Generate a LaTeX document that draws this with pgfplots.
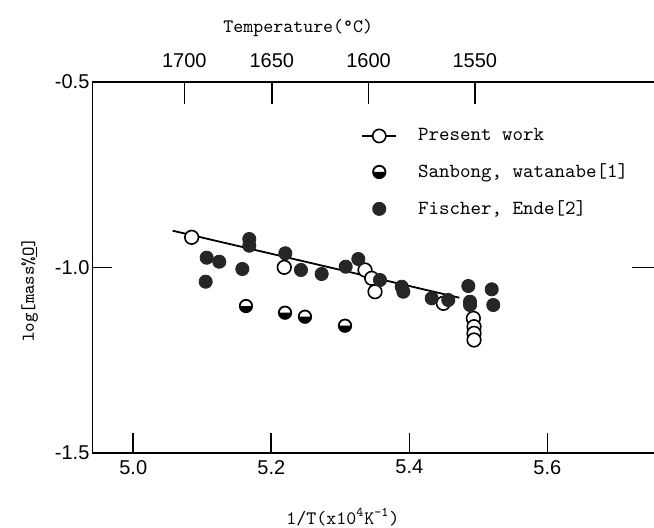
\documentclass[border=0pt]{standalone}
\usepackage{fontspec}
\usepackage{pgfplots}
\pgfplotsset{compat=1.18}
\newfontfamily\numfont{Liberation Sans}
\newcommand\lab{\ttfamily\fontsize{9.5}{11}\selectfont}

\pgfplotstableread{
x y
5.0846 -0.9186
5.2188 -0.9995
5.3358 -1.0067
5.3455 -1.0291
5.3503 -1.0652
5.4493 -1.0965
5.4928 -1.1370
5.4938 -1.1596
5.4938 -1.1774
5.4938 -1.1954
}\present

\pgfplotstableread{
x y
5.1633 -1.1038
5.2199 -1.1218
5.2488 -1.1326
5.3068 -1.1569
}\sanbong

\pgfplotstableread{
x y
5.1681 -0.9232
5.1681 -0.9412
5.1064 -0.9736
5.1246 -0.9844
5.1049 -1.0383
5.1580 -1.0040
5.2203 -0.9617
5.2430 -1.0067
5.2730 -1.0175
5.3078 -0.9978
5.3261 -0.9771
5.3575 -1.0337
5.3890 -1.0518
5.3913 -1.0652
5.4325 -1.0830
5.4565 -1.0876
5.4855 -1.0499
5.4880 -1.0922
5.4880 -1.1011
5.5194 -1.0588
5.5217 -1.1011
}\fischer

\begin{document}
\begin{tikzpicture}
\useasboundingbox (-46.25pt,-37pt) rectangle (280.75pt,226.5pt);
\begin{axis}[
  at={(0,0)}, anchor=south west,
  scale only axis, width=280.75pt, height=185.5pt,
  xmin=4.9409, xmax=5.7546, ymin=-1.5, ymax=-0.5,
  axis x line=bottom, axis y line=left,
  axis line style={-, line width=0.9pt},
  every outer x axis line/.append style={-},
  every outer y axis line/.append style={-},
  tick align=inside, major tick length=10pt,
  every tick/.style={black, line width=0.8pt},
  xtick={5.0,5.2,5.4,5.6}, ytick={-1.5,-1.0,-0.5},
  tick label style={font=\numfont\fontsize{10}{12}\selectfont},
  x tick label style={/pgf/number format/.cd, fixed, fixed zerofill, precision=1, assume math mode=true},
  y tick label style={xshift=2pt, /pgf/number format/.cd, fixed, fixed zerofill, precision=1, assume math mode=true},
  xlabel={1/T(x10\textsuperscript{4}K\textsuperscript{-1})},
  xlabel style={font=\lab, at={(axis description cs:0.446,0)}, anchor=center, yshift=-32pt},
  ylabel={log[mass\%\underline{O}]},
  ylabel style={font=\ttfamily\fontsize{9}{11}\selectfont, at={(axis description cs:-0.112,0.44)}, anchor=center},
  legend style={at={(axis description cs:0.478,0.887)}, anchor=north west, draw=none, fill=none,
    font=\ttfamily\fontsize{10}{12}\selectfont, row sep=6pt, inner sep=0pt,
    /tikz/every odd column/.append style={column sep=8.5pt}},
  legend cell align=left,
  clip=false,
]
\addlegendimage{black, line width=0.9pt, mark=*, mark options={fill=white, draw=black, line width=0.8pt}, mark size=3.3pt}
\addlegendentry{Present work}
\addplot[black, line width=0.9pt, forget plot] coordinates {(5.0571,-0.9008) (5.4725,-1.0814)};
\addplot[only marks, mark=*, mark size=3.4pt, mark options={fill=white, draw=black, line width=0.8pt}, forget plot] table {\present};
\addplot[only marks, mark=halfcircle*, mark size=3.1pt, mark options={fill=white, draw=black, mark color=black, line width=0.9pt}] table {\sanbong};
\addlegendentry{Sanbong, watanabe[1]}
\addplot[only marks, mark=*, mark size=3.3pt, mark options={fill=black!85, draw=black!85}] table {\fischer};
\addlegendentry{Fischer, Ende[2]}
\end{axis}
\begin{axis}[
  at={(0,0)}, anchor=south west,
  scale only axis, width=280.75pt, height=185.5pt,
  xmin=4.9409, xmax=5.7546, ymin=-1.5, ymax=-0.5,
  axis x line=top, axis y line=right,
  axis line style={-, line width=0.9pt},
  every outer x axis line/.append style={-},
  every outer y axis line/.append style={draw=none},
  tick align=inside, major tick length=11pt,
  every tick/.style={black, line width=0.8pt},
  xtick={5.074,5.2007,5.341,5.495},
  xticklabels={1700,1650,1600,1550},
  ytick={-1.0}, yticklabels={},
  x tick label style={font=\numfont\fontsize{10}{12}\selectfont, yshift=3.5pt},
  xlabel={Temperature(°C)},
  xlabel style={font=\lab, at={(axis description cs:0.3665,1)}, anchor=center, yshift=27pt},
]
\addplot[draw=none, forget plot] coordinates {(5.0,-1.0)};
\end{axis}
\end{tikzpicture}
\end{document}
